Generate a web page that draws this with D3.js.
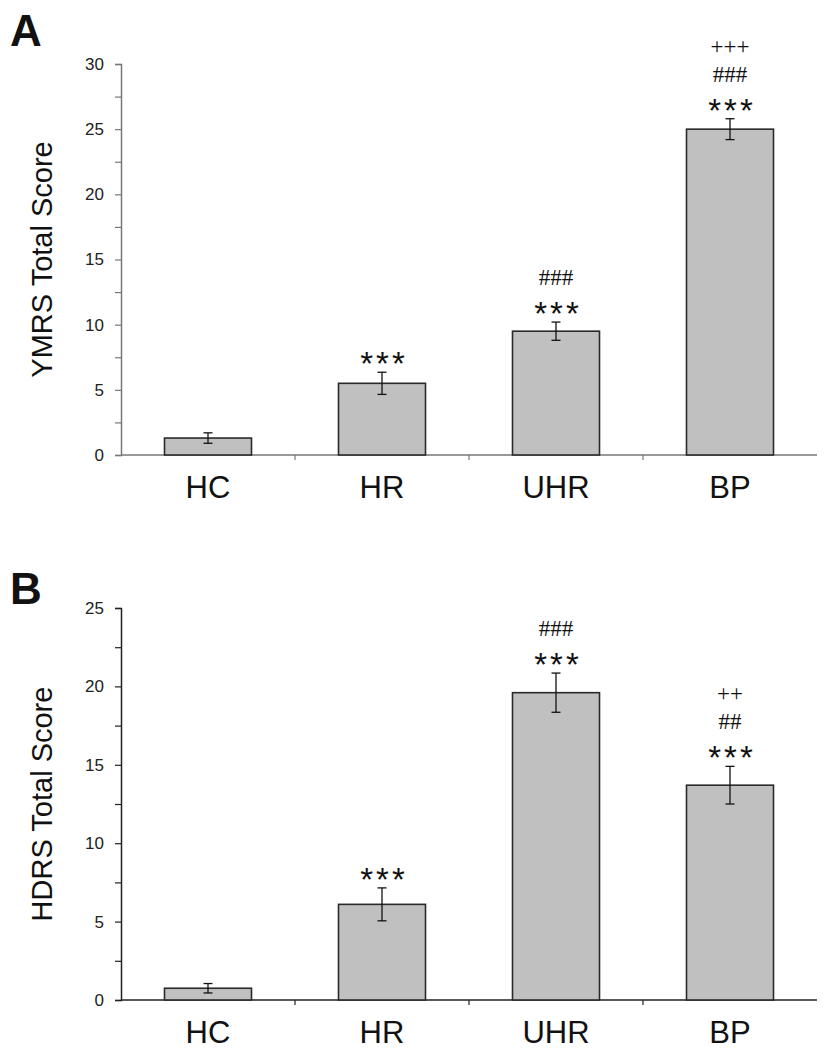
<!DOCTYPE html>
<html><head><meta charset="utf-8">
<script src="https://cdn.jsdelivr.net/npm/d3@7"></script>
<style>body{margin:0;background:#fff}svg{display:block}</style>
</head><body>
<svg id="c" width="830" height="1050"></svg>
<script>
const categories = ["HC", "HR", "UHR", "BP"];
const ymrsMean = [1.3, 5.5, 9.5, 25.0];
const ymrsErr = [0.4, 0.85, 0.7, 0.8];
const ymrsMarks = [[], ["***"], ["***", "###"], ["***", "###", "+++"]];
const hdrsMean = [0.75, 6.1, 19.6, 13.7];
const hdrsErr = [0.3, 1.05, 1.25, 1.2];
const hdrsMarks = [[], ["***"], ["***", "###"], ["***", "##", "++"]];
const ymrsTicks = [0, 5, 10, 15, 20, 25, 30];
const hdrsTicks = [0, 5, 10, 15, 20, 25];

const svg = d3.select("#c");

function panel(o) {
  const g = svg.append("g");
  const x = d3.scaleBand().domain(categories).range([121, 817]).paddingInner(0.5).paddingOuter(0.25);
  const y = d3.scaleLinear().domain([0, o.max]).range([o.y0, o.y1]);
  const step = x.step();

  g.append("text").attr("x", 10).attr("y", o.letterY).text(o.letter)
    .attr("font-family", "Liberation Sans, Arial, sans-serif").attr("font-weight", "bold")
    .attr("font-size", 44).attr("fill", "#111");

  const minor = d3.range(0, o.max + 0.001, 2.5);
  const ya = g.append("g").attr("transform", "translate(121,0)")
    .call(d3.axisLeft(y).tickValues(minor).tickSize(6).tickPadding(11)
      .tickFormat(d => o.ticks.includes(d) ? d : ""));
  ya.select(".domain").attr("stroke", o.axisColor).attr("stroke-width", 1.5);
  ya.selectAll(".tick line").attr("stroke", o.axisColor).attr("stroke-width", 1.2);
  ya.selectAll(".tick text").attr("font-family", "Liberation Sans, Arial, sans-serif")
    .attr("font-size", 17).attr("fill", "#222");

  g.append("line").attr("x1", 121).attr("x2", 817).attr("y1", y(0)).attr("y2", y(0))
    .attr("stroke", o.axisColor).attr("stroke-width", 1.5);
  g.selectAll(".xt").data(categories.slice(1)).enter().append("line")
    .attr("x1", d => x(d) - step * 0.25).attr("x2", d => x(d) - step * 0.25)
    .attr("y1", y(0)).attr("y2", y(0) + 5).attr("stroke", o.axisColor).attr("stroke-width", 1.2);

  g.selectAll(".bar").data(categories).enter().append("rect")
    .attr("x", d => x(d)).attr("width", x.bandwidth())
    .attr("y", (d, i) => y(o.mean[i])).attr("height", (d, i) => y(0) - y(o.mean[i]))
    .attr("fill", "#c0c0c0").attr("stroke", "#2a2a2a").attr("stroke-width", 1.6);

  categories.forEach((d, i) => {
    const cx = x(d) + x.bandwidth() / 2;
    const t = y(o.mean[i] + o.err[i]), b = y(o.mean[i] - o.err[i]);
    g.append("line").attr("x1", cx).attr("x2", cx).attr("y1", t).attr("y2", b).attr("stroke", "#111").attr("stroke-width", 1.3);
    [t, b].forEach(yy => g.append("line").attr("x1", cx - 4.5).attr("x2", cx + 4.5).attr("y1", yy).attr("y2", yy).attr("stroke", "#111").attr("stroke-width", 1.3));
    o.marks[i].forEach((m, k) => {
      if (k === 0) {
        g.append("text").attr("x", cx + 2).attr("y", t + 3).attr("text-anchor", "middle")
          .attr("font-family", "Liberation Sans, Arial, sans-serif").attr("font-size", 33).attr("fill", "#111")
          .attr("letter-spacing", 3).text(m);
      } else {
        g.append("text").attr("x", cx).attr("y", t - 37 - (k - 1) * 28).attr("text-anchor", "middle")
          .attr("font-family", "Liberation Serif, Times New Roman, serif").attr("font-size", 23).attr("fill", "#111")
          .text(m);
      }
    });
  });

  g.selectAll(".cl").data(categories).enter().append("text")
    .attr("x", d => x(d) + x.bandwidth() / 2).attr("y", y(0) + 43).attr("text-anchor", "middle")
    .attr("font-family", "Liberation Sans, Arial, sans-serif").attr("font-size", 31).attr("fill", "#111")
    .text(d => d);

  g.append("text").attr("transform", `translate(52,${(o.y0 + o.y1) / 2}) rotate(-90)`)
    .attr("text-anchor", "middle").attr("font-family", "Liberation Sans, Arial, sans-serif")
    .attr("font-size", 29).attr("fill", "#111").text(o.label);
}

panel({letter: "A", letterY: 46, max: 30, y0: 455, y1: 64, ticks: ymrsTicks, mean: ymrsMean, err: ymrsErr,
  marks: ymrsMarks, label: "YMRS Total Score", axisColor: "#777"});
panel({letter: "B", letterY: 604, max: 25, y0: 1000, y1: 608, ticks: hdrsTicks, mean: hdrsMean, err: hdrsErr,
  marks: hdrsMarks, label: "HDRS Total Score", axisColor: "#222"});
</script>
</body></html>
